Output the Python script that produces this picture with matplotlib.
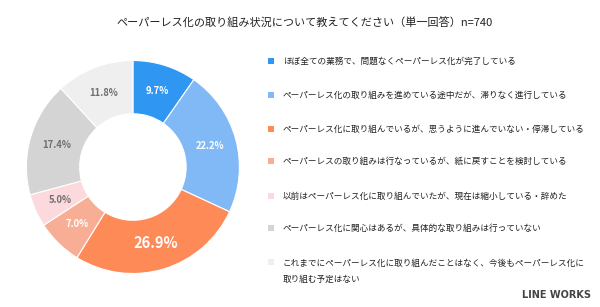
import matplotlib
matplotlib.use("Agg")
import matplotlib.pyplot as plt
from matplotlib.patches import Rectangle
import numpy as np

plt.rcParams['font.family'] = ['Noto Sans CJK JP', 'DejaVu Sans']

title = 'ペーパーレス化の取り組み状況について教えてください（単一回答）n=740'
categories = [
    'ほぼ全ての業務で、問題なくペーパーレス化が完了している',
    'ペーパーレス化の取り組みを進めている途中だが、滞りなく進行している',
    'ペーパーレス化に取り組んでいるが、思うように進んでいない・停滞している',
    'ペーパーレスの取り組みは行なっているが、紙に戻すことを検討している',
    '以前はペーパーレス化に取り組んでいたが、現在は縮小している・辞めた',
    'ペーパーレス化に関心はあるが、具体的な取り組みは行っていない',
    'これまでにペーパーレス化に取り組んだことはなく、今後もペーパーレス化に\n取り組む予定はない',
]
values = [9.7, 22.2, 26.9, 7.0, 5.0, 17.4, 11.8]
colors = ['#2f97f2', '#80b9f6', '#fe8a58', '#f8ae95', '#fcd9dc', '#d4d4d4', '#efefef']
label_colors = ['white', 'white', 'white', 'white', '#707070', '#707070', '#707070']

fig = plt.figure(figsize=(6, 3.07), dpi=100)
fig.patch.set_facecolor('white')

# donut
ax = fig.add_axes([0.044, 0.109, 0.355, 0.694])
wedges, _ = ax.pie(values, colors=colors, startangle=90, counterclock=False,
                   radius=1.0, wedgeprops=dict(width=0.5, edgecolor='white', linewidth=0.8))
ax.set_xlim(-1, 1)
ax.set_ylim(-1, 1)
ax.set_aspect('equal')

for v, w, lc in zip(values, wedges, label_colors):
    mid = np.deg2rad((w.theta1 + w.theta2) / 2)
    r = 0.75
    fs = 10.5 if v == max(values) else 6.8
    ax.text(r * np.cos(mid), r * np.sin(mid), f'{v:.1f}%', ha='center', va='center',
            color=lc, fontsize=fs, fontweight='bold')

fig.text(0.508, 0.925, title, ha='center', va='center', fontsize=8.0, color='#222222')

# legend
row_y = [61, 95, 129, 161, 196, 228, 262]
for lab, c, y in zip(categories, colors, row_y):
    fig.patches.append(Rectangle((268 / 600, 1 - (y + 3) / 307), 6 / 600, 6 / 307,
                                 transform=fig.transFigure, facecolor=c, edgecolor='none'))
    if '\n' in lab:
        # two-line item: lines roughly 19 px apart
        fig.text(283 / 600, 1 - (y + 9.5) / 307, lab, ha='left', va='center',
                 fontsize=6.2, color='#222222', linespacing=2.0)
    else:
        fig.text(283 / 600, 1 - y / 307, lab, ha='left', va='center',
                 fontsize=6.2, color='#222222')

fig.text(0.985, 0.04, 'LINE WORKS', ha='right', va='center', fontsize=7,
         fontweight='bold', color='#444444', family=['DejaVu Sans'])

fig.savefig('out.png', dpi=100)
